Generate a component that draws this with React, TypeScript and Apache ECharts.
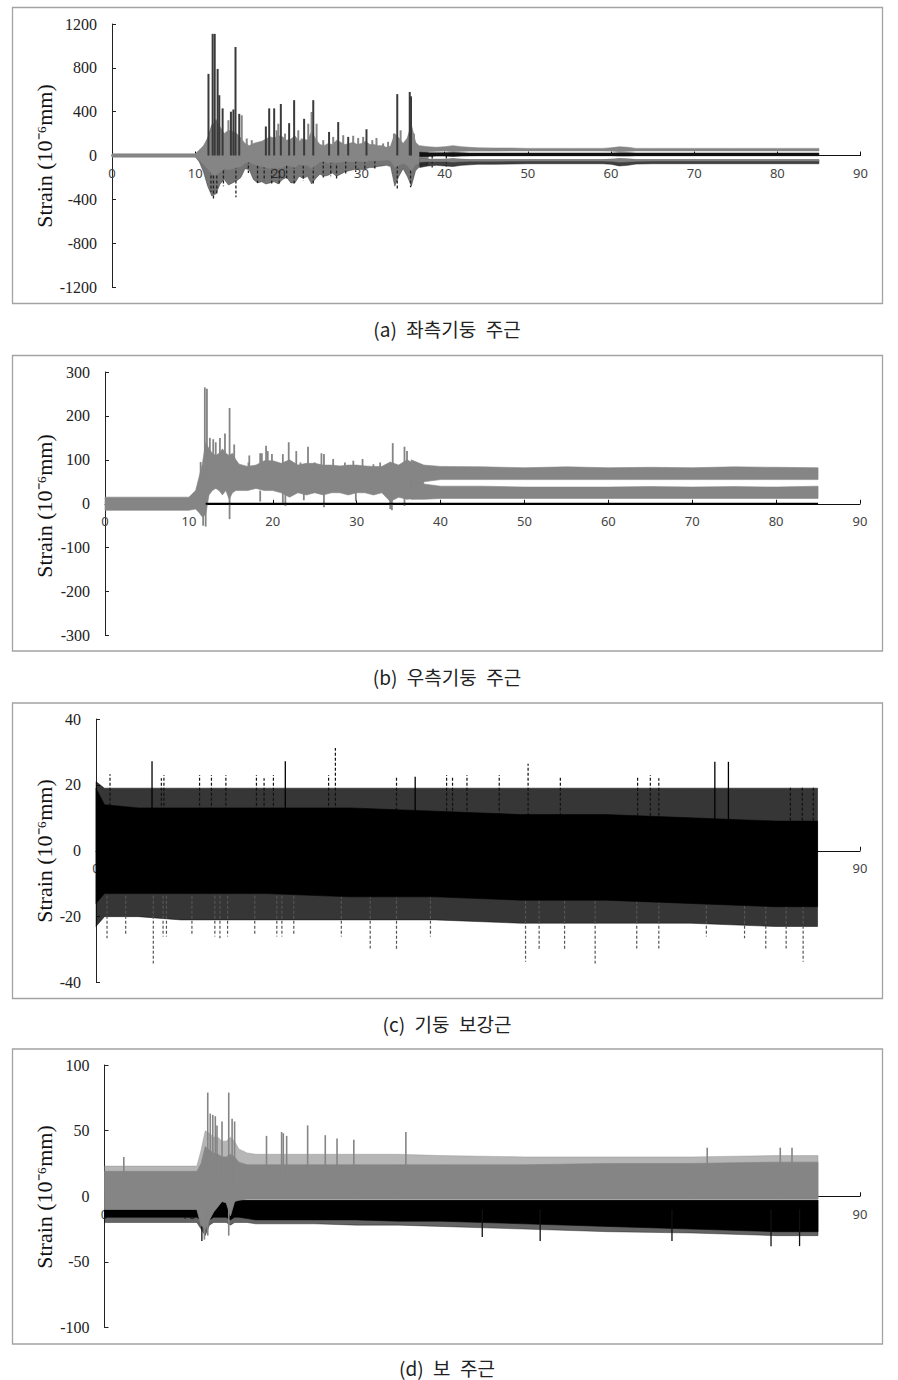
import React, { useEffect, useRef } from 'react';
import * as echarts from 'echarts';

// ---------- Panel (a) 좌측기둥 주근 ----------
const aBurstT = [0, 10,
  10.5, 11, 11.5, 12, 12.5, 13, 13.5, 14, 14.5, 15,
  15.5, 16, 16.5, 17, 17.5, 18, 18.5, 19, 19.5, 20,
  20.5, 21, 21.5, 22, 22.5, 23, 23.5, 24, 24.5, 25,
  25.5, 26, 26.5, 27, 27.5, 28, 28.5, 29, 29.5, 30,
  30.5, 31, 31.5, 32, 32.5, 33, 33.5, 34, 34.5, 35,
  35.5, 36, 36.5, 37, 37.5, 38];
const aGrayHi = [15, 15,
  50, 90, 150, 250, 330, 260, 200, 230, 220, 200,
  160, 110, 90, 110, 120, 130, 150, 170, 160, 180,
  170, 140, 150, 180, 130, 150, 140, 220, 150, 100,
  90, 110, 100, 140, 120, 100, 110, 120, 100, 110,
  130, 100, 100, 90, 90, 75, 85, 200, 160, 110,
  160, 280, 120, 85, 72, 68];
const aGrayLo = [-15, -15,
  -40, -80, -120, -170, -180, -150, -120, -130, -120, -110,
  -100, -70, -60, -80, -90, -100, -110, -120, -110, -120,
  -110, -90, -100, -110, -80, -90, -90, -120, -90, -60,
  -55, -70, -60, -70, -60, -55, -55, -60, -50, -55,
  -60, -45, -50, -45, -45, -40, -45, -110, -90, -70,
  -90, -140, -80, -70, -65, -65];
const aBlackHi = [8, 8,
  40, 80, 160, 280, 300, 240, 170, 200, 190, 170,
  130, 90, 80, 100, 110, 120, 140, 150, 140, 160,
  150, 120, 130, 160, 110, 130, 120, 200, 130, 90,
  80, 100, 90, 120, 100, 90, 100, 100, 90, 100,
  110, 90, 90, 80, 80, 65, 75, 180, 140, 100,
  140, 260, 110, 75, 60, 60];
const aBlackLo = [-8, -8,
  -60, -150, -280, -370, -350, -260, -220, -270, -250, -230,
  -200, -120, -130, -220, -250, -240, -260, -250, -240, -260,
  -220, -200, -250, -250, -190, -210, -190, -260, -210, -170,
  -190, -180, -160, -190, -170, -150, -140, -130, -120, -130,
  -120, -110, -110, -100, -95, -90, -100, -280, -190, -120,
  -190, -280, -140, -100, -90, -90];
const aSpikeT = [11.6, 12.1, 12.35, 12.7, 12.9, 13.3, 14.3, 14.6, 14.85, 15.3,
  18.5, 18.9, 19.5, 20.3, 21.3, 21.9, 23.1, 24.2, 26.1, 27.2,
  28.4, 30.6, 34.3, 35.8, 35.95];
const aSpikeV = [745, 1110, 1110, 790, 550, 430, 400, 420, 990, 380,
  265, 430, 430, 470, 295, 505, 335, 505, 215, 305,
  170, 240, 560, 580, 540];
const aGraySpikeT = [14.0, 15.6, 16.2, 16.8, 17.6, 19.8, 20.0, 20.8, 22.4, 22.8,
  23.6, 24.0, 24.6, 25.4, 26.6, 27.8, 29.0, 29.6, 30.2, 31.3,
  31.8, 32.6, 33.2, 33.9, 34.7, 36.3, 37.1];
const aGraySpikeV = [322, 367, 155, 140, 110, 230, 290, 200, 230, 155,
  290, 397, 290, 140, 170, 185, 180, 160, 170, 140,
  160, 110, 125, 200, 230, 200, 85];
const aDipT = [11.9, 12.2, 12.6, 13.4, 14.9, 16.4, 17.5, 18.3, 19.2, 20.1,
  21.0, 21.9, 23.0, 24.2, 25.4, 26.3, 27.0, 28.1, 29.3, 30.4,
  31.6, 34.3, 35.9, 38.5, 40.2];
const aDipV = [-330, -392, -360, -280, -380, -160, -250, -230, -260, -270,
  -220, -270, -230, -270, -200, -190, -210, -180, -150, -140,
  -120, -300, -290, -110, -100];
const aTailT = [37, 38, 39, 40, 41, 42, 43, 44, 46, 48, 50, 55, 59, 60, 61, 62, 63, 65, 70, 75, 80, 85];
const aTailUpHi = [90, 80, 75, 80, 90, 80, 75, 70, 68, 68, 65, 65, 65, 70, 80, 75, 65, 65, 65, 65, 65, 65];
const aTailUpLo = [30, 35, 38, 40, 35, 38, 40, 40, 40, 42, 42, 42, 42, 40, 35, 38, 42, 42, 42, 42, 42, 42];
const aTailMidHi = [30, 25, 25, 25, 28, 25, 22, 22, 22, 22, 22, 22, 22, 22, 25, 25, 22, 22, 22, 22, 22, 22];
const aTailMidLo = [-10, -8, -5, -5, -8, -5, -3, -2, -2, -2, -2, -2, -2, -2, -5, -5, -2, -2, -2, -2, -2, -2];
const aTailLowHi = [-30, -35, -35, -35, -30, -35, -38, -38, -38, -38, -38, -38, -38, -35, -30, -32, -38, -38, -38, -38, -38, -38];
const aTailLowLo = [-110, -95, -90, -95, -100, -90, -85, -80, -80, -78, -75, -75, -75, -80, -95, -90, -78, -75, -75, -75, -75, -75];
const aTailLowGrayLo = [-60, -55, -55, -55, -60, -55, -52, -52, -52, -50, -50, -50, -50, -52, -60, -58, -52, -50, -50, -50, -50, -50];

// ---------- Panel (b) 우측기둥 주근 ----------
const bT = [0, 10, 10.8, 11.2, 11.6, 12, 12.4, 12.8, 13.2, 13.6,
  14, 14.4, 14.8, 15.2, 15.6, 16, 17, 18, 19, 20,
  21, 22, 23, 24, 25, 26, 27, 28, 29, 30,
  31, 32, 33, 34, 35, 36, 37, 38];
const bHi = [15, 15, 30, 60, 90, 140, 125, 115, 110, 115,
  125, 115, 110, 115, 100, 90, 85, 88, 98, 98,
  92, 100, 88, 92, 92, 88, 88, 86, 88, 88,
  86, 85, 85, 95, 88, 100, 90, 85];
const bLo = [-15, -15, -12, -20, -30, -25, 20, 30, 35, 30,
  20, 30, 10, 25, 30, 30, 30, 35, 30, 30,
  25, 15, 25, 20, 25, 20, 25, 25, 20, 25,
  25, 20, 25, 5, 15, 10, 12, 12];
const bSpikeT = [11.4, 11.9, 12.15, 12.5, 12.9, 13.2, 13.7, 14.3, 14.85, 15.4,
  17.1, 17.2, 18.5, 18.7, 19.2, 19.4, 19.9, 21.2, 21.9, 22.8,
  23.3, 24.2, 25.0, 25.8, 26.1, 27.2, 28.6, 29.6, 30.7, 32.0,
  32.8, 34.3, 35.7, 36.0];
const bSpikeV = [95, 265, 262, 150, 147, 140, 150, 160, 218, 135,
  94, 110, 115, 115, 132, 120, 113, 113, 140, 120,
  94, 130, 94, 115, 113, 102, 94, 98, 102, 90,
  94, 138, 130, 120];
const bDipT = [11.7, 12.0, 14.85, 18.5, 21.2, 21.5, 23.7, 26.1, 29.9, 34.0, 34.2, 35.7];
const bDipV = [-50, -52, -35, 5, 2, -5, 8, -8, 6, -12, -15, -5];
const bTailT = [36.5, 38, 40, 45, 50, 55, 60, 65, 70, 75, 80, 85];
const bUpHi = [100, 88, 85, 84, 82, 84, 82, 83, 82, 84, 83, 82];
const bUpLo = [35, 50, 55, 55, 55, 55, 55, 55, 55, 55, 55, 55];
const bLowHi = [50, 45, 40, 40, 38, 38, 38, 39, 38, 39, 38, 40];
const bLowLo = [10, 10, 12, 12, 12, 12, 12, 12, 12, 12, 12, 12];
const bBlackT = [12, 85];
const bBlackV = [0, 0];

// ---------- Panel (c) 기둥 보강근 ----------
const cT = [0, 1, 5, 10, 20, 30, 40, 50, 60, 70, 80, 85];
const cCoreHi = [19, 14, 13, 13, 13, 13, 12, 11, 11, 10, 9, 9];
const cCoreLo = [-16, -13, -13, -13, -13, -14, -14, -15, -15, -16, -17, -17];
const cFringeHi = [21, 19, 19, 19, 19, 19, 19, 19, 19, 19, 19, 19];
const cFringeLo = [-23, -20, -20, -21, -21, -21, -21, -22, -22, -22, -23, -23];
const cUpT = [1.65, 7.7, 8.0, 12.2, 13.6, 15.3, 18.9, 19.8, 20.9, 27.4,
  28.2, 35.4, 41.3, 42.0, 43.7, 47.5, 50.9, 54.7, 63.8, 65.3,
  66.3, 81.8, 83.2, 84.5];
const cUpV = [23.2, 22, 23, 23, 23, 23, 23, 22, 23, 23,
  31.2, 22.5, 23, 22.5, 23, 23, 26.4, 22.5, 22.3, 23,
  22, 19.5, 19.5, 19.5];
const cUpSolidT = [6.6, 22.3, 37.6, 72.9, 74.5];
const cUpSolidV = [27.2, 27.2, 22.5, 27, 27];
const cDownT = [1.3, 3.5, 6.75, 7.9, 8.3, 11.3, 14.0, 14.6, 15.5, 18.7,
  21.3, 21.9, 23.3, 28.9, 32.3, 35.4, 39.4, 50.6, 52.2, 55.2,
  58.8, 63.7, 66.3, 71.9, 76.4, 78.9, 81.3, 83.3];
const cDownV = [-26.6, -25.6, -34.2, -26, -26, -25.6, -26, -26.6, -26, -25.6,
  -26, -26, -25.6, -26, -29.7, -30.3, -26, -33.7, -30.3, -30.3,
  -34.2, -29.7, -29.7, -26, -26.6, -29.7, -29.7, -33.7];

// ---------- Panel (d) 보 주근 ----------
const dT = [0, 11, 11.5, 12, 12.5, 13, 13.5, 14, 14.5, 15,
  15.5, 16, 17, 18, 20, 25, 30, 35, 40, 50,
  60, 70, 80, 85];
const dGrayHi = [19, 19, 25, 38, 35, 33, 32, 30, 30, 32,
  30, 26, 24, 24, 24, 24, 24, 24, 24, 24,
  25, 25, 26, 26];
const dGrayFrHi = [23, 23, 35, 50, 48, 45, 45, 42, 42, 45,
  42, 36, 33, 32, 32, 32, 32, 32, 31, 30,
  30, 30, 31, 31];
const dGrayLo = [-10, -10, -22, -25, -18, -12, -8, -4, -5, -15,
  -4, -3, -2, -2, -2, -2, -2, -2, -2, -2,
  -2, -2, -2, -2];
const dBlackHi = [-6, -6, -5, -5, -5, -5, -4, -3, -3, -3,
  -3, -3, -3, -3, -3, -3, -3, -3, -3, -3,
  -3, -3, -3, -3];
const dBlackLo = [-16, -16, -18, -20, -18, -16, -16, -16, -16, -18,
  -16, -16, -17, -18, -18, -18, -18, -19, -19, -21,
  -23, -25, -27, -27];
const dBlackFrLo = [-20, -20, -25, -30, -22, -20, -20, -20, -20, -22,
  -20, -20, -20, -21, -21, -21, -22, -22, -23, -25,
  -27, -28, -30, -30];
const dUpT = [2.3, 12.3, 12.6, 12.9, 13.2, 13.4, 14.0, 14.8, 15.2, 15.5,
  19.3, 21.1, 21.3, 21.7, 24.2, 26.3, 27.7, 29.7, 35.9, 71.8,
  80.5, 81.9];
const dUpV = [30, 79, 63, 62, 61, 54, 57, 79, 59, 57,
  46, 49, 48, 46, 54, 46.5, 44, 43, 49, 37,
  37, 37];
const dGrayDownT = [11.9, 12.3, 14.8];
const dGrayDownV = [-33, -30, -30];
const dBlackDownT = [11.6, 45, 51.9, 67.6, 79.4, 82.8];
const dBlackDownV = [-34, -31, -34, -34, -38, -38];

// ---------- axes / labels ----------
const captions = ['(a)\u2002좌측기둥\u2002주근', '(b)\u2002우측기둥\u2002주근', '(c)\u2002기둥\u2002보강근', '(d)\u2002보\u2002주근'];
const yMins = [-1200, -300, -40, -100];
const yMaxs = [1200, 300, 40, 100];
const yIntervals = [400, 100, 20, 50];
const xMin = 0;
const xMax = 90;
const xInterval = 10;

const GRAY = '#858585';
const BLACK = '#000000';

const grids = [
  { left: 112, top: 24, width: 748.5, height: 263 },
  { left: 105, top: 372, width: 755, height: 263.5 },
  { left: 96, top: 719, width: 764, height: 263.5 },
  { left: 104.5, top: 1065, width: 755.5, height: 262.5 },
];
const boxes = [
  { y: 7.5, h: 296 },
  { y: 355.5, h: 295.5 },
  { y: 703, h: 295.5 },
  { y: 1049, h: 295 },
];
const nameCenters = [156, 506, 851, 1197];
const captionY = [328, 676, 1023, 1367];

function band(idx: number, times: number[], lo: number[], hi: number[], color: string, opacity: number, z: number) {
  return {
    type: 'custom',
    xAxisIndex: idx,
    yAxisIndex: idx,
    z,
    silent: true,
    data: times.map((t, i) => [t, lo[i], hi[i]]),
    encode: { x: 0, y: [1, 2] },
    renderItem: (params: any, api: any) => {
      if (params.dataIndex !== 0) return { type: 'group', children: [] };
      const top = times.map((t, i) => api.coord([t, hi[i]]));
      const bot = times.map((t, i) => api.coord([t, lo[i]])).reverse();
      return {
        type: 'polygon',
        shape: { points: top.concat(bot) },
        style: { fill: color, opacity, stroke: color, lineWidth: 0.6 },
      };
    },
  };
}

function spikes(idx: number, ts: number[], vs: number[], base: number, color: string, width: number, dash: number[] | null, z: number) {
  return {
    type: 'custom',
    xAxisIndex: idx,
    yAxisIndex: idx,
    z,
    silent: true,
    data: ts.map((t, i) => [t, base, vs[i]]),
    encode: { x: 0, y: [1, 2] },
    renderItem: (params: any, api: any) => {
      const p0 = api.coord([api.value(0), api.value(1)]);
      const p1 = api.coord([api.value(0), api.value(2)]);
      return {
        type: 'line',
        shape: { x1: p0[0], y1: p0[1], x2: p1[0], y2: p1[1] },
        style: { stroke: color, lineWidth: width, lineDash: dash || undefined },
      };
    },
  };
}

export default function App() {
  const ref = useRef<HTMLDivElement>(null);
  useEffect(() => {
    if (!ref.current) return;
    const chart = echarts.init(ref.current, undefined, { renderer: 'svg' });

    const xAxes = grids.map((g, i) => ({
      type: 'value',
      gridIndex: i,
      position: 'bottom',
      offset: -g.height / 2,
      min: xMin,
      max: xMax,
      interval: xInterval,
      axisLine: { show: true, onZero: false, lineStyle: { color: '#111', width: 1 } },
      axisTick: { show: true, inside: true, length: 4, lineStyle: { color: '#111' } },
      axisLabel: { margin: 11, fontFamily: 'Noto Sans', fontSize: 13, color: '#444', formatter: (v: number) => String(v) },
      splitLine: { show: false },
    }));
    const yAxes = grids.map((_, i) => ({
      type: 'value',
      gridIndex: i,
      min: yMins[i],
      max: yMaxs[i],
      interval: yIntervals[i],
      axisLine: { show: true, onZero: false, lineStyle: { color: '#222', width: 1 } },
      axisTick: { show: true, inside: true, length: 4, lineStyle: { color: '#222' } },
      axisLabel: { margin: 15, fontFamily: 'Liberation Serif', fontSize: 16, color: '#222', formatter: (v: number) => String(v) },
      splitLine: { show: false },
    }));

    const series: any[] = [
      // (a)
      band(0, aBurstT, aBlackLo, aBlackHi, '#1e1e1e', 0.62, 2),
      spikes(0, aDipT, aDipV, 0, '#222', 1.3, [3, 2], 3),
      band(0, aBurstT, aGrayLo, aGrayHi, GRAY, 1, 4),
      spikes(0, aGraySpikeT, aGraySpikeV, 0, GRAY, 2, null, 4),
      spikes(0, aSpikeT, aSpikeV, 0, '#3a3a3a', 2, null, 5),
      band(0, aTailT, aTailLowLo, aTailLowHi, '#1e1e1e', 0.85, 4),
      band(0, aTailT, aTailLowGrayLo, aTailLowHi, GRAY, 0.9, 5),
      band(0, aTailT, aTailUpLo, aTailUpHi, GRAY, 1, 5),
      band(0, aTailT, aTailMidLo, aTailMidHi, '#111', 1, 6),
      // (b)
      band(1, bT, bLo, bHi, GRAY, 1, 4),
      spikes(1, bSpikeT, bSpikeV, 60, GRAY, 1.8, null, 5),
      spikes(1, bDipT, bDipV, 30, GRAY, 1.8, null, 5),
      band(1, bTailT, bUpLo, bUpHi, GRAY, 1, 4),
      band(1, bTailT, bLowLo, bLowHi, GRAY, 1, 4),
      {
        type: 'line',
        xAxisIndex: 1,
        yAxisIndex: 1,
        z: 6,
        silent: true,
        symbol: 'none',
        data: bBlackT.map((t, i) => [t, bBlackV[i]]),
        lineStyle: { color: BLACK, width: 2 },
      },
      // (c)
      band(2, cT, cFringeLo, cFringeHi, '#0a0a0a', 0.82, 2),
      spikes(2, cDownT, cDownV, 0, '#555', 1.2, [3, 2], 3),
      spikes(2, cUpT, cUpV, 0, '#111', 1.2, [3, 2], 3),
      spikes(2, cUpSolidT, cUpSolidV, 0, '#000', 1.3, null, 3),
      band(2, cT, cCoreLo, cCoreHi, BLACK, 1, 4),
      // (d)
      band(3, dT, dBlackFrLo, dBlackHi, '#111', 0.65, 2),
      band(3, dT, dBlackLo, dBlackHi, BLACK, 1, 3),
      spikes(3, dBlackDownT, dBlackDownV, -10, '#111', 1.3, null, 3),
      band(3, dT, dGrayLo, dGrayFrHi, GRAY, 0.6, 4),
      band(3, dT, dGrayLo, dGrayHi, GRAY, 1, 5),
      spikes(3, dUpT, dUpV, 10, GRAY, 1.6, null, 5),
      spikes(3, dGrayDownT, dGrayDownV, -5, GRAY, 1.6, null, 5),
    ];

    const graphics: any[] = [];
    boxes.forEach((b) => {
      graphics.push({
        type: 'rect',
        shape: { x: 12.5, y: b.y, width: 870, height: b.h },
        style: { fill: 'none', stroke: '#a3a3a3', lineWidth: 1.3 },
        silent: true,
        z: 0,
      });
    });
    nameCenters.forEach((cy) => {
      graphics.push({
        type: 'text',
        x: 44,
        y: cy,
        rotation: Math.PI / 2,
        silent: true,
        style: {
          text: 'Strain (10\u207B\u2076mm)',
          fill: '#111',
          font: '22px "Liberation Serif", serif',
          align: 'center',
          verticalAlign: 'middle',
        },
      });
    });
    captions.forEach((c, i) => {
      graphics.push({
        type: 'text',
        x: 447,
        y: captionY[i],
        silent: true,
        style: {
          text: c,
          fill: '#222',
          font: '19px "Noto Sans CJK KR", sans-serif',
          align: 'center',
          verticalAlign: 'middle',
        },
      });
    });

    chart.setOption({
      animation: false,
      backgroundColor: '#ffffff',
      grid: grids.map((g) => ({ ...g, containLabel: false })),
      xAxis: xAxes,
      yAxis: yAxes,
      series,
      graphic: { elements: graphics },
    });
    return () => chart.dispose();
  }, []);
  return (
    <div
      ref={ref}
      style={{ position: 'absolute', left: 0, top: 0, width: 898, height: 1380, background: '#fff' }}
    />
  );
}
